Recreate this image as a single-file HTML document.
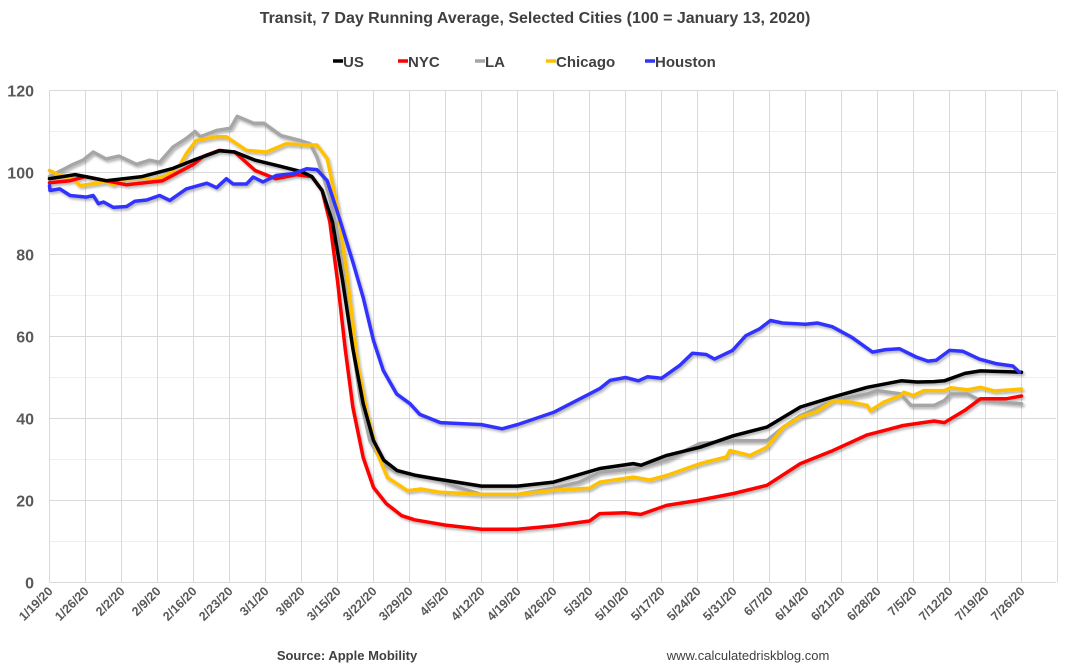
<!DOCTYPE html>
<html><head><meta charset="utf-8">
<style>
body{margin:0;background:#fff;}
svg{display:block;font-family:"Liberation Sans",Arial,sans-serif;}
</style></head>
<body>
<svg id="chart" width="1071" height="670" viewBox="0 0 1071 670">
<defs>
<filter id="sh" x="-5%" y="-5%" width="110%" height="110%">
<feDropShadow dx="1.5" dy="2" stdDeviation="1.2" flood-color="#000" flood-opacity="0.3"/>
</filter>
</defs>
<text x="535" y="23" text-anchor="middle" font-size="16" font-weight="bold" fill="#404040">Transit, 7 Day Running Average, Selected Cities (100 = January 13, 2020)</text>
<g id="legend"></g>
<g id="grid"></g>
<g id="yticks"></g>
<g id="xticks"></g>
<g id="series" filter="url(#sh)"></g>
<text x="347" y="660" text-anchor="middle" font-size="13" font-weight="bold" fill="#404040">Source: Apple Mobility</text>
<text x="748" y="660" text-anchor="middle" font-size="13" fill="#404040">www.calculatedriskblog.com</text>
</svg>
<script>
const xTickLabels=["1/19/20","1/26/20","2/2/20","2/9/20","2/16/20","2/23/20","3/1/20","3/8/20","3/15/20","3/22/20","3/29/20","4/5/20","4/12/20","4/19/20","4/26/20","5/3/20","5/10/20","5/17/20","5/24/20","5/31/20","6/7/20","6/14/20","6/21/20","6/28/20","7/5/20","7/12/20","7/19/20","7/26/20"];
const yTicks=[0,20,40,60,80,100,120];
const seriesNames=["US","NYC","LA","Chicago","Houston"];
const seriesColors=["#000000","#ff0000","#a6a6a6","#ffc000","#3333ff"];
// day index (0 = 1/19/20) and values
const usDays=[0,5,11,18,24,28,33,36,40,45,49,51,53,55,57,59,61,63,65,67.6,71,74.6,84,91,98,107,113.5,115,120,126.5,133,139.5,146,152,159,165.6,168.7,172,174,178,181,189];
const usVals=[98.5,99.5,98,99,101,103,105.3,105,103,101.5,100.2,99,95.6,88,73.6,57,43.6,34.6,29.8,27.3,26.2,25.4,23.5,23.5,24.5,27.8,29,28.6,31,33,35.8,37.9,42.8,45.1,47.6,49.2,48.9,49,49.2,51,51.6,51.3];
const nycDays=[0,4,7,11,15,22,28,30,33,36,40,44,48,51,53,54.5,56,57.5,59,61,63,65.5,68.5,71,77,84,91,98,105,107,112,115,120,126,133,139.5,146,152,159,166,172,174,178,181,186,189];
const nycVals=[97.5,98,99,98,97,98,102,104,105.4,105,100.5,98.5,99.5,99,95.6,88,73.6,57,42.7,30.5,23.2,19.2,16.3,15.3,14,13,13,13.8,15,16.8,17,16.6,18.8,20,21.7,23.7,29,32,36,38.3,39.4,39,42,44.8,44.8,45.5];
const laDays=[0,4.6,6.5,8.5,11,13.5,16.9,19.5,21.4,24,26.6,28.3,29.3,32.6,35.2,36.5,39.7,41.7,45,48.7,50.7,52,54.5,56.5,58.5,60.4,62.3,64.9,67.5,75.8,80,84,91,98,103,107,113.5,120,126.5,133,139.5,142.7,146,152.5,159,161,165.5,167.5,172,174,175.2,178.5,181,189];
const laVals=[99,102,103,105,103.3,104,102,103,102.5,106.2,108.3,110,108.7,110.3,110.8,113.7,112,112,109,107.8,107,103.8,94,81.9,61.5,45.2,34.6,28.9,26.9,24.9,23,21.5,21.5,23,24.5,26.9,27.7,30,33.9,34.6,34.6,37.9,40.7,44.4,46,46.8,46,43.2,43.2,44.4,46,46,44.4,43.6];
const chiDays=[0,2,4.6,5.9,11,12.4,15,18.9,19.5,22.8,25.3,26.6,28.5,32.4,34.4,38.3,42.2,46,50,52,54,56,58,59.9,61.8,63.8,65.7,69.6,72.2,76,84,91,98,105,107,113.5,116.7,120,126.5,131.6,132.3,136.2,139.5,142.7,146,149.2,152.5,155.7,159,159.6,162.2,165.5,166.1,168,170,174,175.2,178.5,181,183.7,189];
const chiVals=[100.5,99.3,98.5,96.8,97.7,97,98.5,98.6,98,99.3,101.7,104.6,107.8,108.7,108.7,105.4,105,107,106.7,106.7,103.4,91.5,73.6,53.4,41,31.4,25.6,22.4,22.8,22,21.5,21.5,22.5,23,24.5,25.7,25,26.1,29,30.6,32.2,31,33,37.9,40.4,41.7,44.4,44,43.2,41.9,44,45.6,46.4,45.6,46.8,46.8,47.5,47,47.6,46.7,47.2];
const houDays=[0,0.1,2,4,7.2,8.5,9.5,10.5,12.4,15,16.6,18.9,21.4,23.4,26.6,30.6,32.5,34.4,35.7,38.3,39.6,41.5,44.1,47.4,50,52,54,56.5,59.1,61,63,64.9,67.5,70.1,72,76,84,88,91,98,105,107,109,112,114.5,116.3,119,122.5,125,127.7,129.3,132.8,135.4,138,140.2,142.5,147,149.3,152.2,156,160,162.6,165.3,168.5,170.8,172.4,175,177.6,180.8,184,187.3,188.6];
const houVals=[96.8,95.6,96,94.4,94,94.4,92.4,92.8,91.5,91.7,93,93.3,94.4,93.2,96,97.4,96.3,98.5,97.2,97.2,98.9,97.7,99.3,99.7,100.9,100.7,98,88.3,77.7,69.5,59,51.7,46,43.6,41,39,38.5,37.5,38.5,41.5,46,47.3,49.3,50,49.2,50.2,49.8,52.9,55.9,55.6,54.5,56.6,60.2,61.8,63.9,63.3,63,63.3,62.4,59.8,56.2,56.8,57,55,54,54.2,56.6,56.4,54.5,53.4,52.8,51.3];
const allDays=[usDays,nycDays,laDays,chiDays,houDays];
const allVals=[usVals,nycVals,laVals,chiVals,houVals];

const NS="http://www.w3.org/2000/svg";
const X0=49.5, DAYPX=36/7, Y0=582.5, YPX=492/120;
const xs=d=>X0+d*DAYPX;
const ys=v=>Y0-v*YPX;
function mk(tag,attrs,parent){const e=document.createElementNS(NS,tag);for(const k in attrs)e.setAttribute(k,attrs[k]);parent.appendChild(e);return e;}
const grid=document.getElementById('grid');
for(let v=10;v<=120;v+=20){
  const l=mk('line',{x1:X0,x2:1056,y1:ys(v),y2:ys(v),stroke:'#efefef','stroke-width':1},grid);
  
  
}
const yt=document.getElementById('yticks');
yTicks.forEach(v=>{
  const l=mk('line',{x1:X0,x2:1056,y1:ys(v),y2:ys(v),stroke:'#d9d9d9','stroke-width':1},grid);
  
  
  const t=mk('text',{x:34,y:ys(v)+6,'text-anchor':'end','font-size':16,'font-weight':'bold',fill:'#595959'},yt);
  t.textContent=v;
  
  
});
const xt=document.getElementById('xticks');
for(let k=0;k<=28;k++){
  const x=xs(k*7);
  const l=mk('line',{x1:x,x2:x,y1:ys(120),y2:ys(0),stroke:'#d9d9d9','stroke-width':1},grid);
  
  
}
xTickLabels.forEach((s,k)=>{
  const x=xs(k*7)+4, y=592;
  const t=mk('text',{x:x,y:y,'text-anchor':'end','font-size':12.5,'font-weight':'bold',fill:'#595959',transform:`rotate(-45 ${x} ${y})`},xt);
  t.textContent=s;
  
  
});
const sg=document.getElementById('series');
[2,3,1,0,4].forEach(i=>{
  const d=allDays[i].map((dd,j)=>(j?'L':'M')+xs(dd).toFixed(1)+' '+ys(allVals[i][j]).toFixed(1)).join(' ');
  const p=mk('path',{d:d,fill:'none',stroke:seriesColors[i],'stroke-width':3.5,'stroke-linejoin':'round','stroke-linecap':'round'},sg);
  
  
});
const lg=document.getElementById('legend');
const legX=[333,398,475,546,645];
seriesNames.forEach((n,i)=>{
  const l=mk('line',{x1:legX[i],x2:legX[i]+10,y1:61,y2:61,stroke:seriesColors[i],'stroke-width':3.5},lg);
  
  
  const t=mk('text',{x:legX[i]+10,y:67,'font-size':15,'font-weight':'bold',fill:'#404040'},lg);
  t.textContent=n;
  
  
});
</script>
</body></html>
